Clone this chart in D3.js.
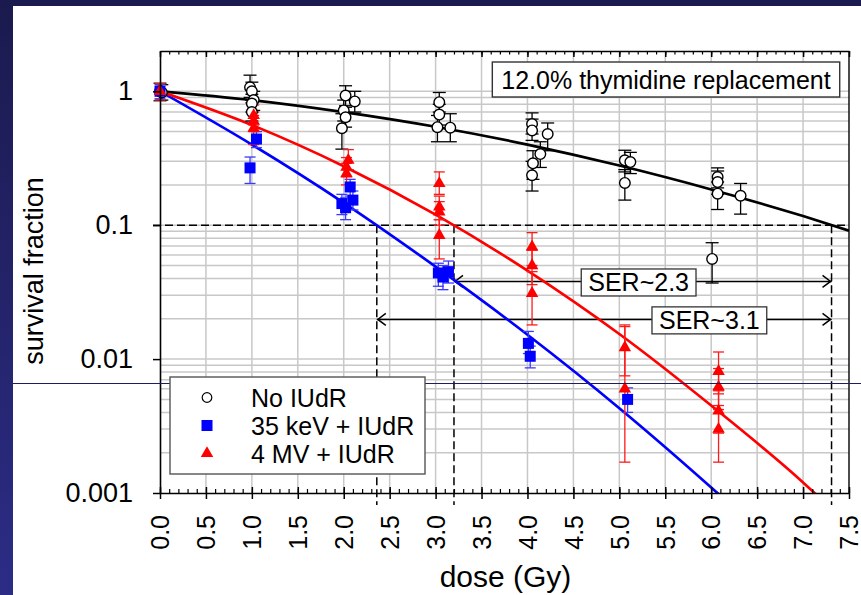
<!DOCTYPE html>
<html>
<head>
<meta charset="utf-8">
<script src="https://cdn.jsdelivr.net/npm/d3@7"></script>
<style>
  html, body { margin: 0; padding: 0; background: #fff; }
  svg { display: block; font-family: "Liberation Sans", Arial, sans-serif; }
</style>
</head>
<body>
<div id="chart"></div>
<script>
// survival data: [dose (Gy), survival fraction, error low, error high]
const noIudr = [
  [0.00, 1.00, 0.85, 1.15],
  [0.02, 0.98, 0.86, 1.12],
  [0.98, 1.07, 0.90, 1.32],
  [1.00, 1.00, 0.86, 1.17],
  [1.02, 0.86, 0.72, 1.00],
  [1.00, 0.81, 0.70, 0.95],
  [1.00, 0.70, 0.60, 0.82],
  [2.02, 0.93, 0.78, 1.10],
  [2.12, 0.84, 0.70, 1.00],
  [2.00, 0.72, 0.60, 0.86],
  [2.02, 0.64, 0.54, 0.76],
  [1.98, 0.53, 0.37, 0.68],
  [3.04, 0.83, 0.70, 0.98],
  [3.04, 0.67, 0.56, 0.80],
  [3.02, 0.54, 0.42, 0.66],
  [3.16, 0.535, 0.42, 0.68],
  [4.05, 0.57, 0.48, 0.69],
  [4.05, 0.51, 0.43, 0.62],
  [4.22, 0.48, 0.36, 0.58],
  [4.14, 0.34, 0.27, 0.42],
  [4.06, 0.29, 0.22, 0.36],
  [4.05, 0.236, 0.18, 0.30],
  [5.06, 0.305, 0.25, 0.363],
  [5.12, 0.296, 0.243, 0.35],
  [5.06, 0.207, 0.154, 0.26],
  [6.07, 0.229, 0.19, 0.268],
  [6.07, 0.21, 0.17, 0.254],
  [6.07, 0.172, 0.131, 0.21],
  [6.32, 0.166, 0.121, 0.205],
  [6.01, 0.056, 0.037, 0.074]
];

const keV35Iudr = [
  [0.00, 1.00, 0.88, 1.12],
  [0.98, 0.268, 0.205, 0.323],
  [1.05, 0.44, 0.38, 0.50],
  [1.98, 0.145, 0.12, 0.17],
  [2.02, 0.135, 0.11, 0.16],
  [2.07, 0.193, 0.165, 0.22],
  [2.10, 0.154, 0.13, 0.18],
  [3.03, 0.044, 0.035, 0.052],
  [3.08, 0.041, 0.033, 0.050],
  [3.14, 0.045, 0.037, 0.054],
  [4.01, 0.0131, 0.011, 0.0161],
  [4.03, 0.0105, 0.0086, 0.0125],
  [5.09, 0.0050, 0.0040, 0.0061]
];

const mv4Iudr = [
  [0.00, 1.00, 0.86, 1.14],
  [1.02, 0.66, 0.56, 0.79],
  [1.02, 0.60, 0.50, 0.70],
  [1.02, 0.53, 0.40, 0.66],
  [2.05, 0.306, 0.26, 0.367],
  [2.03, 0.272, 0.23, 0.32],
  [2.03, 0.243, 0.20, 0.29],
  [3.04, 0.205, 0.17, 0.25],
  [3.04, 0.137, 0.11, 0.165],
  [3.04, 0.126, 0.10, 0.15],
  [3.04, 0.084, 0.056, 0.11],
  [4.05, 0.069, 0.050, 0.088],
  [4.05, 0.050, 0.036, 0.065],
  [4.05, 0.031, 0.018, 0.045],
  [5.06, 0.0122, 0.0075, 0.018],
  [5.06, 0.0060, 0.0017, 0.0175],
  [6.08, 0.0081, 0.0055, 0.0113],
  [6.08, 0.0062, 0.0042, 0.0085],
  [6.08, 0.0041, 0.0028, 0.0058],
  [6.08, 0.0030, 0.0017, 0.0045]
];

// fitted curves, read at whole doses
const curveDose = [0, 1, 2, 3, 4, 5, 6, 7, 7.5];
const curveNoIudr = [1, 0.86, 0.70, 0.544, 0.40, 0.279, 0.185, 0.117, 0.091];
const curve35keV = [1, 0.40, 0.147, 0.049, 0.0152, 0.0043, 0.0011, 0.00026, 0.00012];
const curve4MV = [1, 0.56, 0.276, 0.12, 0.0458, 0.0154, 0.0045, 0.0012, 0.00057];

// 10% survival level and the doses where each fit reaches it
const refLevel = 0.1;
const refDoses = [2.36, 3.2, 7.31];

// SER arrows
const serLabels = ['SER~2.3', 'SER~3.1'];
const serFrom = [3.2, 2.36];
const serTo = [7.31, 7.31];
const serLevel = [0.038, 0.0198];
const serLabelDose = [5.21, 5.98];

const xTicks = d3.range(0, 7.51, 0.5);
const xMinorTicks = d3.range(0, 76).map(i => i / 10);
const yTicks = [1, 0.1, 0.01, 0.001];
const yTickLabels = ['1', '0.1', '0.01', '0.001'];

const legendLabels = ['No IUdR', '35 keV + IUdR', '4 MV + IUdR'];
const titleText = '12.0% thymidine replacement';

const visConfig = {
  width: 861,
  height: 595,
  plot: { left: 160, right: 849, top: 51, bottom: 493 }
};
const p = visConfig.plot;

const svg = d3.select('#chart')
  .append('svg')
  .attr('width', visConfig.width)
  .attr('height', visConfig.height);

// slide frame
const grad = svg.append('defs').append('linearGradient')
  .attr('id', 'frame').attr('x1', 0).attr('y1', 0).attr('x2', 0).attr('y2', 1);
grad.append('stop').attr('offset', '0%').attr('stop-color', '#1b1a4e');
grad.append('stop').attr('offset', '100%').attr('stop-color', '#2c2c86');
svg.append('rect').attr('width', visConfig.width).attr('height', visConfig.height).attr('fill', 'url(#frame)');
svg.append('rect').attr('x', 13).attr('y', 6)
  .attr('width', visConfig.width - 13).attr('height', visConfig.height - 6)
  .attr('fill', '#fff');

svg.append('defs').append('clipPath').attr('id', 'plotClip')
  .append('rect')
  .attr('x', p.left).attr('y', p.top)
  .attr('width', p.right - p.left).attr('height', p.bottom - p.top);

const xscale = d3.scaleLinear().domain([0, 7.5]).range([p.left, p.right]);
const yscale = d3.scaleLog().domain([0.001, 2]).range([p.bottom, p.top]);

// grid
const grid = svg.append('g').attr('stroke', '#c8c8c8').attr('stroke-width', 1.5);
xTicks.filter(d => d > 0 && d < 7.5).forEach(d => {
  grid.append('line').attr('x1', xscale(d)).attr('x2', xscale(d)).attr('y1', p.top).attr('y2', p.bottom);
});
const yGrid = [];
[0.001, 0.01, 0.1].forEach(dec => {
  for (let k = 1; k <= 9; k++) yGrid.push(dec * k);
});
yGrid.push(1);
yGrid.filter(v => v > 0.001).forEach(v => {
  grid.append('line').attr('x1', p.left).attr('x2', p.right).attr('y1', yscale(v)).attr('y2', yscale(v));
});

// dashed reference lines
const refs = svg.append('g')
  .attr('stroke', '#000').attr('stroke-width', 1.5).attr('stroke-dasharray', '8,4').attr('fill', 'none');
refs.append('line')
  .attr('x1', p.left - 7).attr('x2', p.right)
  .attr('y1', yscale(refLevel)).attr('y2', yscale(refLevel));
refDoses.forEach(d => {
  refs.append('line')
    .attr('x1', xscale(d)).attr('x2', xscale(d))
    .attr('y1', yscale(refLevel)).attr('y2', p.bottom + 12);
});

// SER arrows
const ser = svg.append('g');
serLabels.forEach((label, i) => {
  const yy = yscale(serLevel[i]);
  const x1 = xscale(serFrom[i]), x2 = xscale(serTo[i]);
  ser.append('line')
    .attr('x1', x1).attr('x2', x2).attr('y1', yy).attr('y2', yy)
    .attr('stroke', '#000').attr('stroke-width', 1.5);
  ser.append('path')
    .attr('d', `M${x1 + 9},${yy - 6}L${x1 + 1},${yy}L${x1 + 9},${yy + 6}`)
    .attr('stroke', '#000').attr('stroke-width', 1.5).attr('fill', 'none');
  ser.append('path')
    .attr('d', `M${x2 - 9},${yy - 6}L${x2 - 1},${yy}L${x2 - 9},${yy + 6}`)
    .attr('stroke', '#000').attr('stroke-width', 1.5).attr('fill', 'none');
  const g = ser.append('g');
  const rect = g.append('rect').attr('fill', '#fff').attr('stroke', '#333').attr('stroke-width', 1.3);
  const t = g.append('text')
    .attr('x', xscale(serLabelDose[i])).attr('y', yy + 1)
    .attr('dy', '0.36em')
    .attr('text-anchor', 'middle')
    .style('font-size', '25px')
    .text(label);
  const bb = t.node().getBBox();
  rect.attr('x', bb.x - 7).attr('y', yy + 1 - 13.5).attr('width', bb.width + 14).attr('height', 27);
});

// fitted curves
const curves = svg.append('g').attr('clip-path', 'url(#plotClip)');
const line = d3.line()
  .x((d, i) => xscale(curveDose[i]))
  .y(d => yscale(d))
  .curve(d3.curveMonotoneX);
[[curveNoIudr, '#000'], [curve35keV, '#0000ff'], [curve4MV, '#ff0000']].forEach(([vals, color]) => {
  curves.append('path')
    .attr('d', line(vals))
    .attr('fill', 'none')
    .attr('stroke', color)
    .attr('stroke-width', 2.7);
});

// error bars
function errorBars(data, color, cap) {
  const g = svg.append('g').attr('stroke', color).attr('stroke-width', 1.3);
  data.forEach(d => {
    const cx = xscale(d[0]);
    g.append('line').attr('x1', cx).attr('x2', cx).attr('y1', yscale(d[2])).attr('y2', yscale(d[3]));
    g.append('line').attr('x1', cx - cap).attr('x2', cx + cap).attr('y1', yscale(d[2])).attr('y2', yscale(d[2]));
    g.append('line').attr('x1', cx - cap).attr('x2', cx + cap).attr('y1', yscale(d[3])).attr('y2', yscale(d[3]));
  });
}
errorBars(noIudr, '#000', 6.5);
errorBars(keV35Iudr, '#3a3aff', 5.5);
errorBars(mv4Iudr, '#ff1a1a', 5.5);

// markers
svg.append('g').selectAll('circle')
  .data(noIudr)
  .enter()
  .append('circle')
  .attr('cx', d => xscale(d[0]))
  .attr('cy', d => yscale(d[1]))
  .attr('r', 5.3)
  .attr('fill', '#fff')
  .attr('stroke', '#000')
  .attr('stroke-width', 1.4);

svg.append('g').selectAll('rect')
  .data(keV35Iudr)
  .enter()
  .append('rect')
  .attr('x', d => xscale(d[0]) - 5.5)
  .attr('y', d => yscale(d[1]) - 5.5)
  .attr('width', 11)
  .attr('height', 11)
  .attr('fill', '#0000ff');

const tri = d3.symbol().type(d3.symbolTriangle).size(68);
svg.append('g').selectAll('path')
  .data(mv4Iudr)
  .enter()
  .append('path')
  .attr('transform', d => `translate(${xscale(d[0])},${yscale(d[1])})`)
  .attr('d', tri)
  .attr('fill', '#ff0000');

// axes
const bottomMinor = svg.append('g')
  .attr('transform', `translate(0, ${p.bottom})`)
  .call(d3.axisBottom(xscale).tickValues(xMinorTicks).tickSize(-4).tickFormat(''));
bottomMinor.select('.domain').remove();
bottomMinor.selectAll('line').attr('stroke-width', 1.2);

const bottomMajor = svg.append('g')
  .attr('transform', `translate(0, ${p.bottom})`)
  .call(d3.axisBottom(xscale).tickValues(xTicks).tickSize(6).tickSizeOuter(0).tickFormat(d3.format('.1f')));
bottomMajor.attr('font-size', null).attr('font-family', null);
bottomMajor.selectAll('.tick line').attr('y1', -6).attr('stroke-width', 1.5);
bottomMajor.select('.domain').attr('stroke-width', 1.6);
bottomMajor.selectAll('text')
  .attr('transform', 'rotate(-90)')
  .attr('x', -22)
  .attr('y', 0)
  .attr('dy', '0.35em')
  .style('text-anchor', 'end')
  .style('font-size', '25px')
  .attr('fill', '#000');

const topMinor = svg.append('g')
  .attr('transform', `translate(0, ${p.top})`)
  .call(d3.axisTop(xscale).tickValues(xMinorTicks).tickSize(-3.5).tickFormat(''));
topMinor.select('.domain').remove();
topMinor.selectAll('line').attr('stroke-width', 1.2);
const topMajor = svg.append('g')
  .attr('transform', `translate(0, ${p.top})`)
  .call(d3.axisTop(xscale).tickValues(xTicks).tickSize(-6).tickSizeOuter(0).tickFormat(''));
topMajor.selectAll('line').attr('stroke-width', 1.5);
topMajor.select('.domain').attr('stroke-width', 1.4);

const leftAxis = svg.append('g')
  .attr('transform', `translate(${p.left}, 0)`)
  .call(d3.axisLeft(yscale).tickValues(yTicks).tickSize(7).tickSizeOuter(0).tickPadding(20)
    .tickFormat((d, i) => yTickLabels[i]));
leftAxis.attr('font-size', null).attr('font-family', null);
leftAxis.select('.domain').attr('stroke-width', 1.6);
leftAxis.selectAll('.tick line').attr('stroke-width', 1.5);
leftAxis.selectAll('text').style('font-size', '27px').attr('fill', '#000');

svg.append('line')
  .attr('x1', p.right).attr('x2', p.right).attr('y1', p.top).attr('y2', p.bottom)
  .attr('stroke', '#000').attr('stroke-width', 1.4);

// axis titles
svg.append('text')
  .attr('x', (p.left + p.right) / 2 + 1)
  .attr('y', 587)
  .attr('text-anchor', 'middle')
  .style('font-size', '30px')
  .text('dose (Gy)');

svg.append('text')
  .attr('transform', `translate(43, ${(p.top + p.bottom) / 2 - 1}) rotate(-90)`)
  .attr('text-anchor', 'middle')
  .style('font-size', '27px')
  .text('survival fraction');

// stray slide rule line
svg.append('line')
  .attr('x1', 13).attr('x2', visConfig.width)
  .attr('y1', 383.5).attr('y2', 383.5)
  .attr('stroke', '#1e1e5e').attr('stroke-width', 1);

// title box
const titleG = svg.append('g');
const titleRect = titleG.append('rect').attr('fill', '#fff').attr('stroke', '#333').attr('stroke-width', 1.4);
const titleT = titleG.append('text')
  .attr('x', p.right - 8 - 175).attr('y', 80)
  .attr('dy', '0.36em')
  .attr('text-anchor', 'middle')
  .style('font-size', '25px')
  .text(titleText);
const tb = titleT.node().getBBox();
titleRect.attr('x', tb.x - 9).attr('y', 62).attr('width', tb.width + 18).attr('height', 35);

// legend
const legend = svg.append('g').attr('transform', `translate(${p.left + 10}, 377)`);
legend.append('rect')
  .attr('width', 255).attr('height', 97)
  .attr('fill', '#fff').attr('stroke', '#555').attr('stroke-width', 1.4);
legendLabels.forEach((label, i) => {
  const ly = 20.5 + i * 28;
  if (i === 0) {
    legend.append('circle').attr('cx', 37).attr('cy', ly).attr('r', 4.8)
      .attr('fill', '#fff').attr('stroke', '#000').attr('stroke-width', 1.2);
  } else if (i === 1) {
    legend.append('rect').attr('x', 31.5).attr('y', ly - 5.5).attr('width', 11).attr('height', 11)
      .attr('fill', '#0000ff');
  } else {
    legend.append('path').attr('transform', `translate(37,${ly})`).attr('d', tri).attr('fill', '#ff0000');
  }
  legend.append('text')
    .attr('x', 81).attr('y', ly)
    .attr('dy', '0.36em')
    .style('font-size', '25px')
    .text(label);
});
</script>
</body>
</html>
